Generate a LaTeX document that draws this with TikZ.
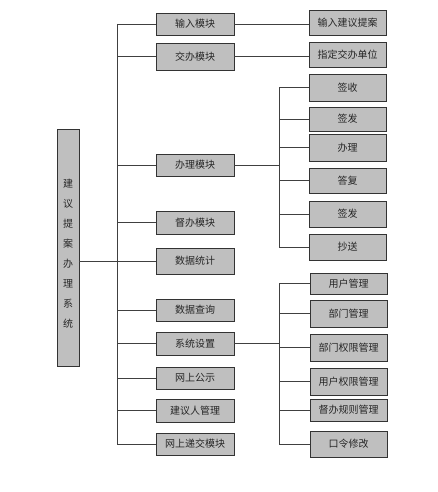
\documentclass[tikz,border=0pt]{standalone}
\usepackage{fontspec}
\setmainfont{Noto Sans CJK SC}
\begin{document}
\begin{tikzpicture}[x=1pt,y=-1pt,
  box/.style={draw=black!80, line width=0.8pt, fill=gray!50, inner sep=0pt, font=\fontsize{10}{12}\selectfont, text=black!85},
  mid/.style={box, minimum width=78pt},
  rgt/.style={box, minimum width=77pt},
  conn/.style={draw=black!75, line width=0.8pt}]
\useasboundingbox (0,0) rectangle (437,492);
% root
\node[box, minimum width=22pt, minimum height=237pt] (root) at (68,247.5) {};
\node[font=\fontsize{10}{20}\selectfont, align=center, inner sep=0pt, text=black!85] (roottext) at (68,253.5) {建\\议\\提\\案\\办\\理\\系\\统};
% middle column
\node[mid, minimum height=22pt] (m1) at (195,24) {输入模块};
\node[mid, minimum height=27pt] (m2) at (195,56.5) {交办模块};
\node[mid, minimum height=22pt] (m3) at (195,165) {办理模块};
\node[mid, minimum height=23pt] (m4) at (195,222.5) {督办模块};
\node[mid, minimum height=26pt] (m5) at (195,261) {数据统计};
\node[mid, minimum height=22pt] (m6) at (195,310) {数据查询};
\node[mid, minimum height=23pt] (m7) at (195,343.5) {系统设置};
\node[mid, minimum height=22pt] (m8) at (195,378) {网上公示};
\node[mid, minimum height=23pt] (m9) at (195,410.5) {建议人管理};
\node[mid, minimum height=22pt] (m10) at (195,444) {网上递交模块};
% right column
\node[rgt, minimum height=25pt] (r1) at (347.5,22.5) {输入建议提案};
\node[rgt, minimum height=25pt] (r2) at (347.5,54.5) {指定交办单位};
\node[rgt, minimum height=27pt] (a1) at (347.5,87.5) {签收};
\node[rgt, minimum height=24pt] (a2) at (347.5,119) {签发};
\node[rgt, minimum height=27pt] (a3) at (347.5,147.5) {办理};
\node[rgt, minimum height=25pt] (a4) at (347.5,180.5) {答复};
\node[rgt, minimum height=26pt] (a5) at (347.5,214) {签发};
\node[rgt, minimum height=26pt] (a6) at (347.5,247) {抄送};
\node[rgt, minimum height=21pt] (s1) at (348.5,283.5) {用户管理};
\node[rgt, minimum height=27pt] (s2) at (348.5,313.5) {部门管理};
\node[rgt, minimum height=27pt] (s3) at (348.5,347.5) {部门权限管理};
\node[rgt, minimum height=27pt] (s4) at (348.5,381.5) {用户权限管理};
\node[rgt, minimum height=22pt] (s5) at (348.5,410) {督办规则管理};
\node[rgt, minimum height=26pt] (s6) at (348.5,444) {口令修改};
% trunk
\coordinate (ttop) at (117,24);
\coordinate (tbot) at (117,444);
\draw[conn] (ttop) -- (tbot);
\draw[conn] (root.east |- m5.west) -- (m5.west);
\foreach \m in {m1,m2,m3,m4,m6,m7,m8,m9,m10}
  \draw[conn] (117,0 |- \m.west) -- (\m.west);
% direct links
\draw[conn] (m1.east) -- (r1.west |- m1.east);
\draw[conn] (m2.east) -- (r2.west |- m2.east);
% banli sub-trunk
\coordinate (bj) at (279,165);
\draw[conn] (m3.east) -- (bj);
\draw[conn] (279,0 |- a1.west) -- (279,0 |- a6.west);
\foreach \a in {a1,a2,a3,a4,a5,a6}
  \draw[conn] (279,0 |- \a.west) -- (\a.west);
% system settings sub-trunk
\coordinate (sj) at (279,343.5);
\draw[conn] (m7.east) -- (sj);
\draw[conn] (279,0 |- s1.west) -- (279,0 |- s6.west);
\foreach \s in {s1,s2,s3,s4,s5,s6}
  \draw[conn] (279,0 |- \s.west) -- (\s.west);
\end{tikzpicture}
\end{document}
